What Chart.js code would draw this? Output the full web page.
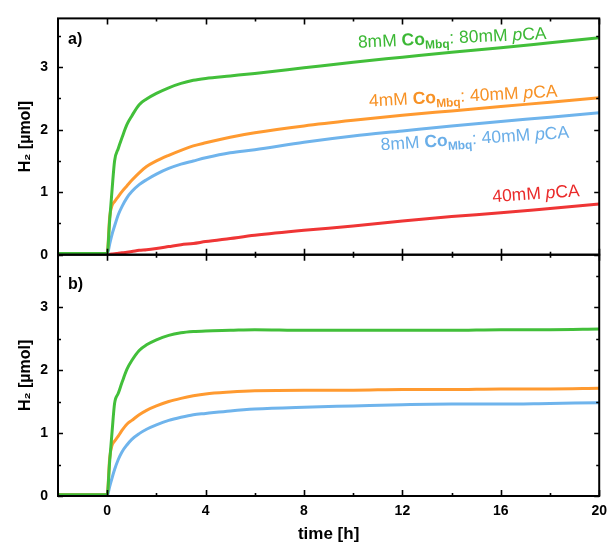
<!DOCTYPE html>
<html><head><meta charset="utf-8">
<script src="https://cdn.jsdelivr.net/npm/chart.js@4.4.1/dist/chart.umd.min.js"></script>
<style>html,body{margin:0;padding:0;background:#fff;}#wrap{width:614px;height:547px;position:relative}</style>
</head><body><div id="wrap"><canvas id="c" width="614" height="547"></canvas></div>
<script>
// ---- data ----
const time    = [-2, -0.02, 0, 0.1, 0.2, 0.3, 0.45, 0.6, 0.8, 1.0, 1.3, 1.6, 2.0, 2.5, 3.0, 3.5, 4.0, 5.0, 6.0, 8.0, 10, 12, 14, 16, 18, 20];
// panel a)
const aGreen  = [0.02, 0.02, 0.02, 0.55, 1.05, 1.50, 1.70, 1.87, 2.08, 2.22, 2.40, 2.49, 2.58, 2.67, 2.74, 2.79, 2.82, 2.86, 2.90, 2.99, 3.08, 3.16, 3.24, 3.31, 3.39, 3.47];
const aOrange = [0.02, 0.02, 0.02, 0.60, 0.79, 0.85, 0.93, 1.01, 1.10, 1.19, 1.31, 1.41, 1.50, 1.59, 1.67, 1.74, 1.79, 1.88, 1.95, 2.06, 2.15, 2.23, 2.30, 2.37, 2.44, 2.51];
const aBlue   = [0.01, 0.01, 0.00, 0.17, 0.33, 0.46, 0.64, 0.77, 0.91, 1.01, 1.12, 1.20, 1.29, 1.38, 1.45, 1.50, 1.55, 1.63, 1.68, 1.80, 1.90, 1.98, 2.06, 2.13, 2.20, 2.27];
const aRed    = [0.00, 0.00, 0.00, 0.005, 0.01, 0.015, 0.025, 0.03, 0.04, 0.05, 0.07, 0.08, 0.10, 0.13, 0.16, 0.18, 0.21, 0.26, 0.31, 0.39, 0.46, 0.54, 0.61, 0.67, 0.74, 0.81];
// panel b)
const bGreen  = [0.02, 0.02, 0.02, 0.55, 1.03, 1.47, 1.63, 1.80, 2.01, 2.15, 2.31, 2.40, 2.48, 2.55, 2.59, 2.61, 2.62, 2.63, 2.64, 2.63, 2.63, 2.63, 2.63, 2.64, 2.64, 2.65];
const bOrange = [0.02, 0.02, 0.02, 0.60, 0.81, 0.87, 0.95, 1.04, 1.14, 1.20, 1.29, 1.36, 1.43, 1.50, 1.55, 1.59, 1.62, 1.65, 1.67, 1.68, 1.68, 1.69, 1.69, 1.70, 1.70, 1.71];
const bBlue   = [0.01, 0.01, 0.00, 0.15, 0.29, 0.42, 0.58, 0.70, 0.81, 0.90, 0.99, 1.06, 1.13, 1.20, 1.25, 1.29, 1.31, 1.35, 1.38, 1.41, 1.43, 1.45, 1.46, 1.46, 1.47, 1.48];
// ticks
const xTicks = [0, 4, 8, 12, 16, 20];
const xMinorTicks = [2, 6, 10, 14, 18];
const yTicks = [0, 1, 2, 3];
const yMinorTicks = [0.5, 1.5, 2.5, 3.5];

const FONT = '"Liberation Sans", Arial, Helvetica, sans-serif';
const C = {green: '#42bf3a', orange: '#ff9a30', blue: '#6fb4ec', red: '#ef3535'};
const pts = (vals) => time.map((t, i) => ({x: t, y: vals[i]}));
const ds = (vals, color, axis) => ({data: pts(vals), borderColor: color, backgroundColor: color,
  borderWidth: 3, pointRadius: 0, cubicInterpolationMode: 'monotone', yAxisID: axis, fill: false});

const curveLabels = [
  {t: 10.2, v: 3.31, angle: -2.7, color: '#3cb835', segs: [
    {t: '8mM '}, {t: 'Co', b: true}, {t: 'Mbq', b: true, sub: true}, {t: ': 80mM '}, {t: 'p', i: true}, {t: 'CA'}]},
  {t: 10.65, v: 2.37, angle: -3.0, color: '#f79226', segs: [
    {t: '4mM '}, {t: 'Co', b: true}, {t: 'Mbq', b: true, sub: true}, {t: ': 40mM '}, {t: 'p', i: true}, {t: 'CA'}]},
  {t: 11.13, v: 1.67, angle: -3.8, color: '#6aaee8', segs: [
    {t: '8mM '}, {t: 'Co', b: true}, {t: 'Mbq', b: true, sub: true}, {t: ': 40mM '}, {t: 'p', i: true}, {t: 'CA'}]},
  {t: 15.67, v: 0.84, angle: -4.0, color: '#ea2b2b', segs: [
    {t: '40mM '}, {t: 'p', i: true}, {t: 'CA'}]}
];

function drawRich(ctx, segs, x, y, angleDeg, size, color) {
  ctx.save();
  ctx.translate(x, y);
  ctx.rotate(angleDeg * Math.PI / 180);
  ctx.fillStyle = color; ctx.textBaseline = 'alphabetic'; ctx.textAlign = 'left';
  let cx = 0;
  for (const s of segs) {
    const fs = s.sub ? size * 0.68 : size;
    ctx.font = (s.i ? 'italic ' : '') + (s.b ? 'bold ' : '') + fs + 'px ' + FONT;
    ctx.fillText(s.t, cx, s.sub ? size * 0.24 : 0);
    cx += ctx.measureText(s.t).width;
  }
  ctx.restore();
}

const framePlugin = {
  id: 'frames',
  afterDatasetsDraw(chart) {
    const ctx = chart.ctx, x = chart.scales.x, area = chart.chartArea;
    ctx.save();
    ctx.strokeStyle = '#000'; ctx.lineWidth = 2;
    for (const id of ['yTop', 'yBot']) {
      const y = chart.scales[id];
      ctx.strokeRect(area.left, y.top, area.right - area.left, y.bottom - y.top);
      ctx.lineWidth = 1.6;
      ctx.beginPath();
      const tick = (v, len) => {
        const py = Math.round(y.getPixelForValue(v)) + 0.5;
        ctx.moveTo(area.left, py); ctx.lineTo(area.left + len, py);
        ctx.moveTo(area.right, py); ctx.lineTo(area.right - len, py);
      };
      yTicks.forEach(v => tick(v, 5)); yMinorTicks.forEach(v => tick(v, 3));
      const xt = (v, len) => {
        const px = Math.round(x.getPixelForValue(v)) + 0.5;
        ctx.moveTo(px, y.bottom); ctx.lineTo(px, y.bottom - len);
        ctx.moveTo(px, y.top); ctx.lineTo(px, y.top + len);
      };
      xTicks.forEach(v => xt(v, 6)); xMinorTicks.forEach(v => xt(v, 3));
      ctx.stroke();
      ctx.lineWidth = 2;
    }
    // panel letters
    ctx.fillStyle = '#000'; ctx.font = 'bold 16px ' + FONT; ctx.textBaseline = 'middle'; ctx.textAlign = 'left';
    ctx.fillText('a)', area.left + 10, chart.scales.yTop.top + 21);
    ctx.fillText('b)', area.left + 10, chart.scales.yBot.top + 30);
    // curve labels
    const yt = chart.scales.yTop;
    for (const l of curveLabels) {
      drawRich(ctx, l.segs, x.getPixelForValue(l.t), yt.getPixelForValue(l.v), l.angle, 17.5, l.color);
    }
    ctx.restore();
  }
};

const yAxis = (max, weight, order) => ({
  type: 'linear', position: 'left', stack: 'panels', stackWeight: weight, weight: order,
  min: 0, max: max, offset: false,
  grid: {display: false, drawTicks: false}, border: {display: false},
  afterBuildTicks: s => { s.ticks = yTicks.map(v => ({value: v})); },
  afterFit: s => { s.width = 58; },
  ticks: {padding: 10, color: '#000', font: {family: FONT, size: 14, weight: 'bold'}},
  title: {display: true, text: 'H₂ [µmol]', color: '#000', padding: {top: 16, bottom: 0},
    font: {family: FONT, size: 16, weight: 'bold'}}
});

new Chart(document.getElementById('c'), {
  type: 'line',
  data: {datasets: [
    ds(aGreen, C.green, 'yTop'), ds(aOrange, C.orange, 'yTop'), ds(aBlue, C.blue, 'yTop'), ds(aRed, C.red, 'yTop'),
    ds(bGreen, C.green, 'yBot'), ds(bOrange, C.orange, 'yBot'), ds(bBlue, C.blue, 'yBot')
  ]},
  options: {
    responsive: false, animation: false, devicePixelRatio: 1,
    layout: {padding: {top: 15, right: 8, left: 0, bottom: 0}},
    plugins: {legend: {display: false}, tooltip: {enabled: false}},
    scales: {
      x: {type: 'linear', position: 'bottom', min: -2, max: 20,
        grid: {display: false, drawTicks: false}, border: {display: false},
        afterBuildTicks: s => { s.ticks = xTicks.map(v => ({value: v})); },
        afterFit: s => { s.height = 51; },
        ticks: {padding: 7, color: '#000', maxRotation: 0, font: {family: FONT, size: 14, weight: 'bold'}},
        title: {display: true, text: 'time [h]', color: '#000', padding: {top: 0, bottom: 2},
          font: {family: FONT, size: 17, weight: 'bold'}}
      },
      yBot: yAxis(3.83, 243, 1),
      yTop: yAxis(3.78, 238, 2)
    }
  },
  plugins: [framePlugin]
});
</script></body></html>
